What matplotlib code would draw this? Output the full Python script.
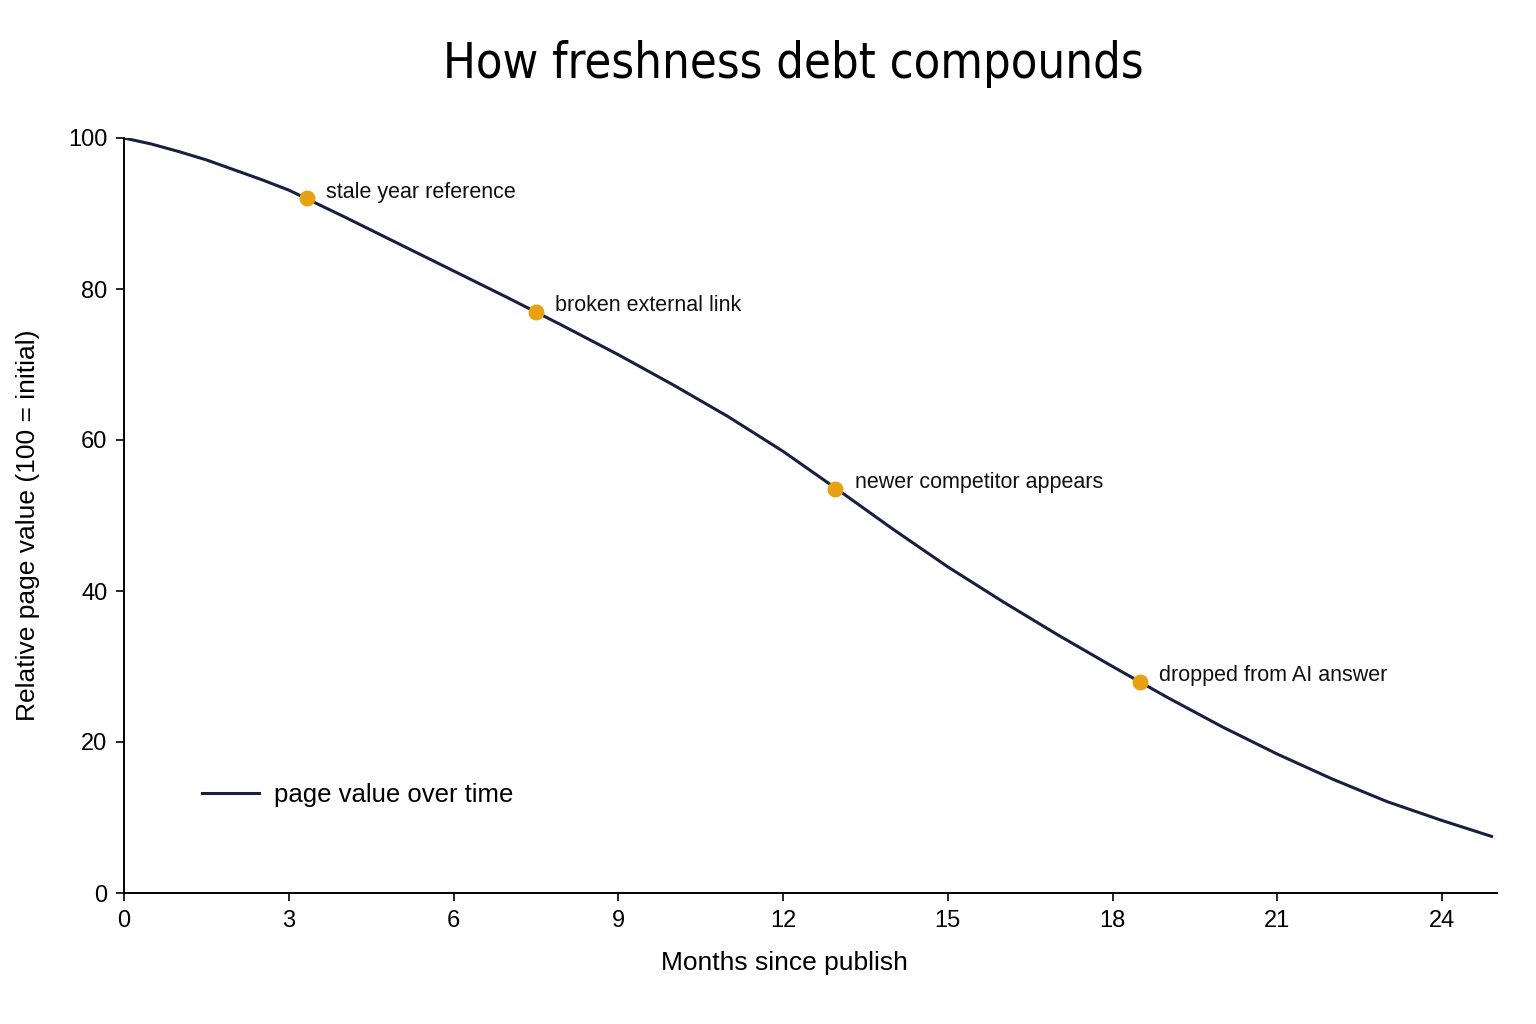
import matplotlib
matplotlib.use("Agg")
import matplotlib.pyplot as plt

# datos
meses = [0, 0.5, 1, 1.5, 2, 2.5, 3, 4, 5, 6, 7, 8, 9, 10, 11, 12, 13, 14, 15, 16, 17, 18,
         19, 20, 21, 22, 23, 24, 24.9]
valor = [100, 99.2, 98.2, 97.1, 95.8, 94.5, 93.1, 89.6, 86.0, 82.4, 78.8, 75.1, 71.3, 67.3,
         63.1, 58.5, 53.4, 48.2, 43.2, 38.6, 34.2, 30.0, 25.9, 22.0, 18.4, 15.1, 12.1, 9.6, 7.5]

evento_mes = [3.33, 7.5, 12.95, 18.5]
evento_valor = [92, 77, 53.5, 28]
evento_txt = ["stale year reference", "broken external link",
              "newer competitor appears", "dropped from AI answer"]

plt.rcParams['font.family'] = ['Liberation Sans', 'DejaVu Sans']

fig = plt.figure(figsize=(15.36, 10.24), dpi=100)
ax = fig.add_axes([124/1536, 1 - 893/1024, (1497 - 124)/1536, (893 - 138)/1024])

ax.plot(meses, valor, color='#17213f', lw=2.2, label='page value over time', zorder=2,
        solid_joinstyle='round')
ax.scatter(evento_mes, evento_valor, s=110, color='#e9a114', zorder=3)
for x, y, t in zip(evento_mes, evento_valor, evento_txt):
    ax.annotate(t, (x, y), xytext=(14, 4.5), textcoords='offset points',
                fontsize=15.5, va='center', ha='left', color='#111111')

ax.set_xlim(0, 25)
ax.set_ylim(0, 100)
ax.set_xticks(range(0, 25, 3))
ax.set_yticks(range(0, 101, 20))
ax.tick_params(labelsize=17, length=6, width=1.2, direction='out', pad=6)
for s in ['top', 'right']:
    ax.spines[s].set_visible(False)
for s in ['left', 'bottom']:
    ax.spines[s].set_linewidth(1.4)

ax.set_xlabel('Months since publish', fontsize=19)
ax.xaxis.set_label_coords((784 - 124)/1373, (893 - 963)/755)
ax.xaxis.label.set_va('center')
ax.set_ylabel('Relative page value (100 = initial)', fontsize=19)
ax.yaxis.set_label_coords((28 - 124)/1373, (893 - 525)/755)
ax.yaxis.label.set_va('center')
ax.yaxis.label.set_ha('center')

ax.legend(loc='lower left', bbox_to_anchor=(0.04, 0.083), frameon=False, fontsize=18.5,
          handlelength=2.2, handletextpad=0.6)

fig.text(793/1536, 1 - 64/1024, 'How freshness debt compounds', ha='center', va='center',
         fontsize=35, family='DejaVu Sans', stretch='condensed')

fig.savefig('out.png', dpi=100, facecolor='white')
